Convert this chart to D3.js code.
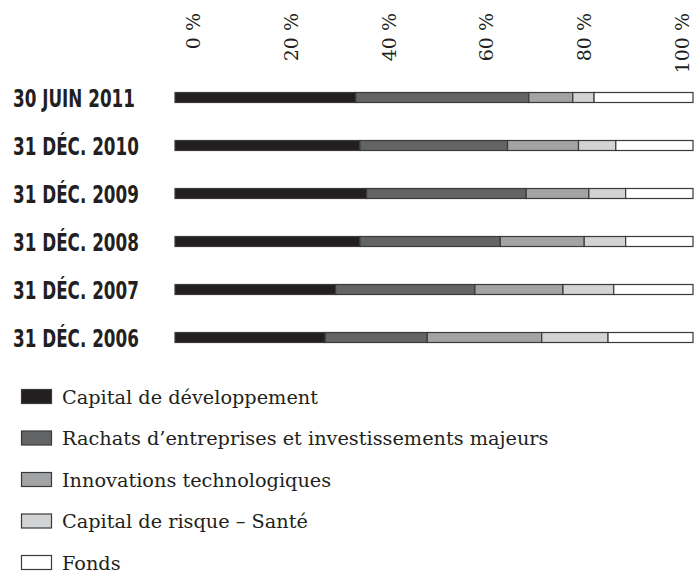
<!DOCTYPE html>
<html><head><meta charset="utf-8">
<script src="https://cdn.jsdelivr.net/npm/d3@7/dist/d3.min.js"></script>
<style>html,body{margin:0;padding:0;background:#fff;}</style>
</head><body>
<script>
const categories = ["30 JUIN 2011","31 DÉC. 2010","31 DÉC. 2009","31 DÉC. 2008","31 DÉC. 2007","31 DÉC. 2006"];
const seriesNames = ["Capital de développement","Rachats d’entreprises et investissements majeurs","Innovations technologiques","Capital de risque – Santé","Fonds"];
const capitalDev   = [34.9, 35.7, 37.0, 35.7, 31.0, 29.0];
const rachats      = [33.4, 28.5, 30.8, 27.1, 26.9, 19.7];
const innovations  = [8.5, 13.7, 12.1, 16.2, 17.0, 22.1];
const risqueSante  = [4.1, 7.2, 7.1, 8.0, 9.8, 12.8];
const fonds        = [19.1, 14.9, 13.0, 13.0, 15.3, 16.4];
const tickValues = [0, 20, 40, 60, 80, 100];
const colors = ["#231f20","#636466","#a2a3a5","#d2d3d5","#ffffff"];

const W = 694, H = 576;
const svg = d3.select("body").append("svg").attr("width", W).attr("height", H);

const seriesData = [capitalDev, rachats, innovations, risqueSante, fonds];
const rows = categories.map((c, i) => {
  const o = {cat: c};
  seriesNames.forEach((s, j) => o[s] = seriesData[j][i]);
  return o;
});
const stack = d3.stack().keys(seriesNames)(rows);

const x = d3.scaleLinear().domain([0, 100]).range([175, 693]);
const xLabel = d3.scaleLinear().domain([0, 100]).range([200, 689]);
const y = d3.scalePoint().domain(categories).range([97.5, 337.5]);
const barH = 10;

// tick labels (rotated)
svg.append("g").selectAll("text").data(tickValues).join("text")
  .attr("transform", d => `translate(${xLabel(d)},13) rotate(-90)`)
  .attr("text-anchor", "end")
  .attr("font-family", "DejaVu Serif")
  .attr("font-size", 19)
  .attr("fill", "#231f20")
  .text(d => d + "\u00a0%");

// bars
const g = svg.append("g");
stack.forEach((layer, j) => {
  g.append("g").selectAll("rect").data(layer).join("rect")
    .attr("x", d => x(d[0]))
    .attr("y", d => y(d.data.cat) - barH / 2)
    .attr("width", d => x(d[1]) - x(d[0]))
    .attr("height", barH)
    .attr("fill", colors[j])
    .attr("stroke", "#3a3a3b")
    .attr("stroke-width", 1.2);
});

// category labels (condensed bold)
svg.append("g").selectAll("text").data(categories).join("text")
  .attr("transform", d => `translate(13,${y(d) + 9}) scale(0.7,1)`)
  .attr("font-family", "'DejaVu Sans', sans-serif")
  .attr("font-weight", "bold")
  .attr("font-size", 24)
  .attr("fill", "#231f20")
  .text(d => d);

// legend
const ly = d3.scalePoint().domain(seriesNames).range([397, 563]);
const lg = svg.append("g").selectAll("g").data(seriesNames).join("g")
  .attr("transform", d => `translate(0,${ly(d)})`);
lg.append("rect").attr("x", 21.5).attr("y", -7.5).attr("width", 30).attr("height", 14)
  .attr("fill", (d, i) => colors[i]).attr("stroke", "#3a3a3b").attr("stroke-width", 1.2);
lg.append("text").attr("x", 62).attr("y", 6.5)
  .attr("font-family", "DejaVu Serif").attr("font-size", 19.3).attr("fill", "#231f20")
  .text(d => d);
</script>
</body></html>
